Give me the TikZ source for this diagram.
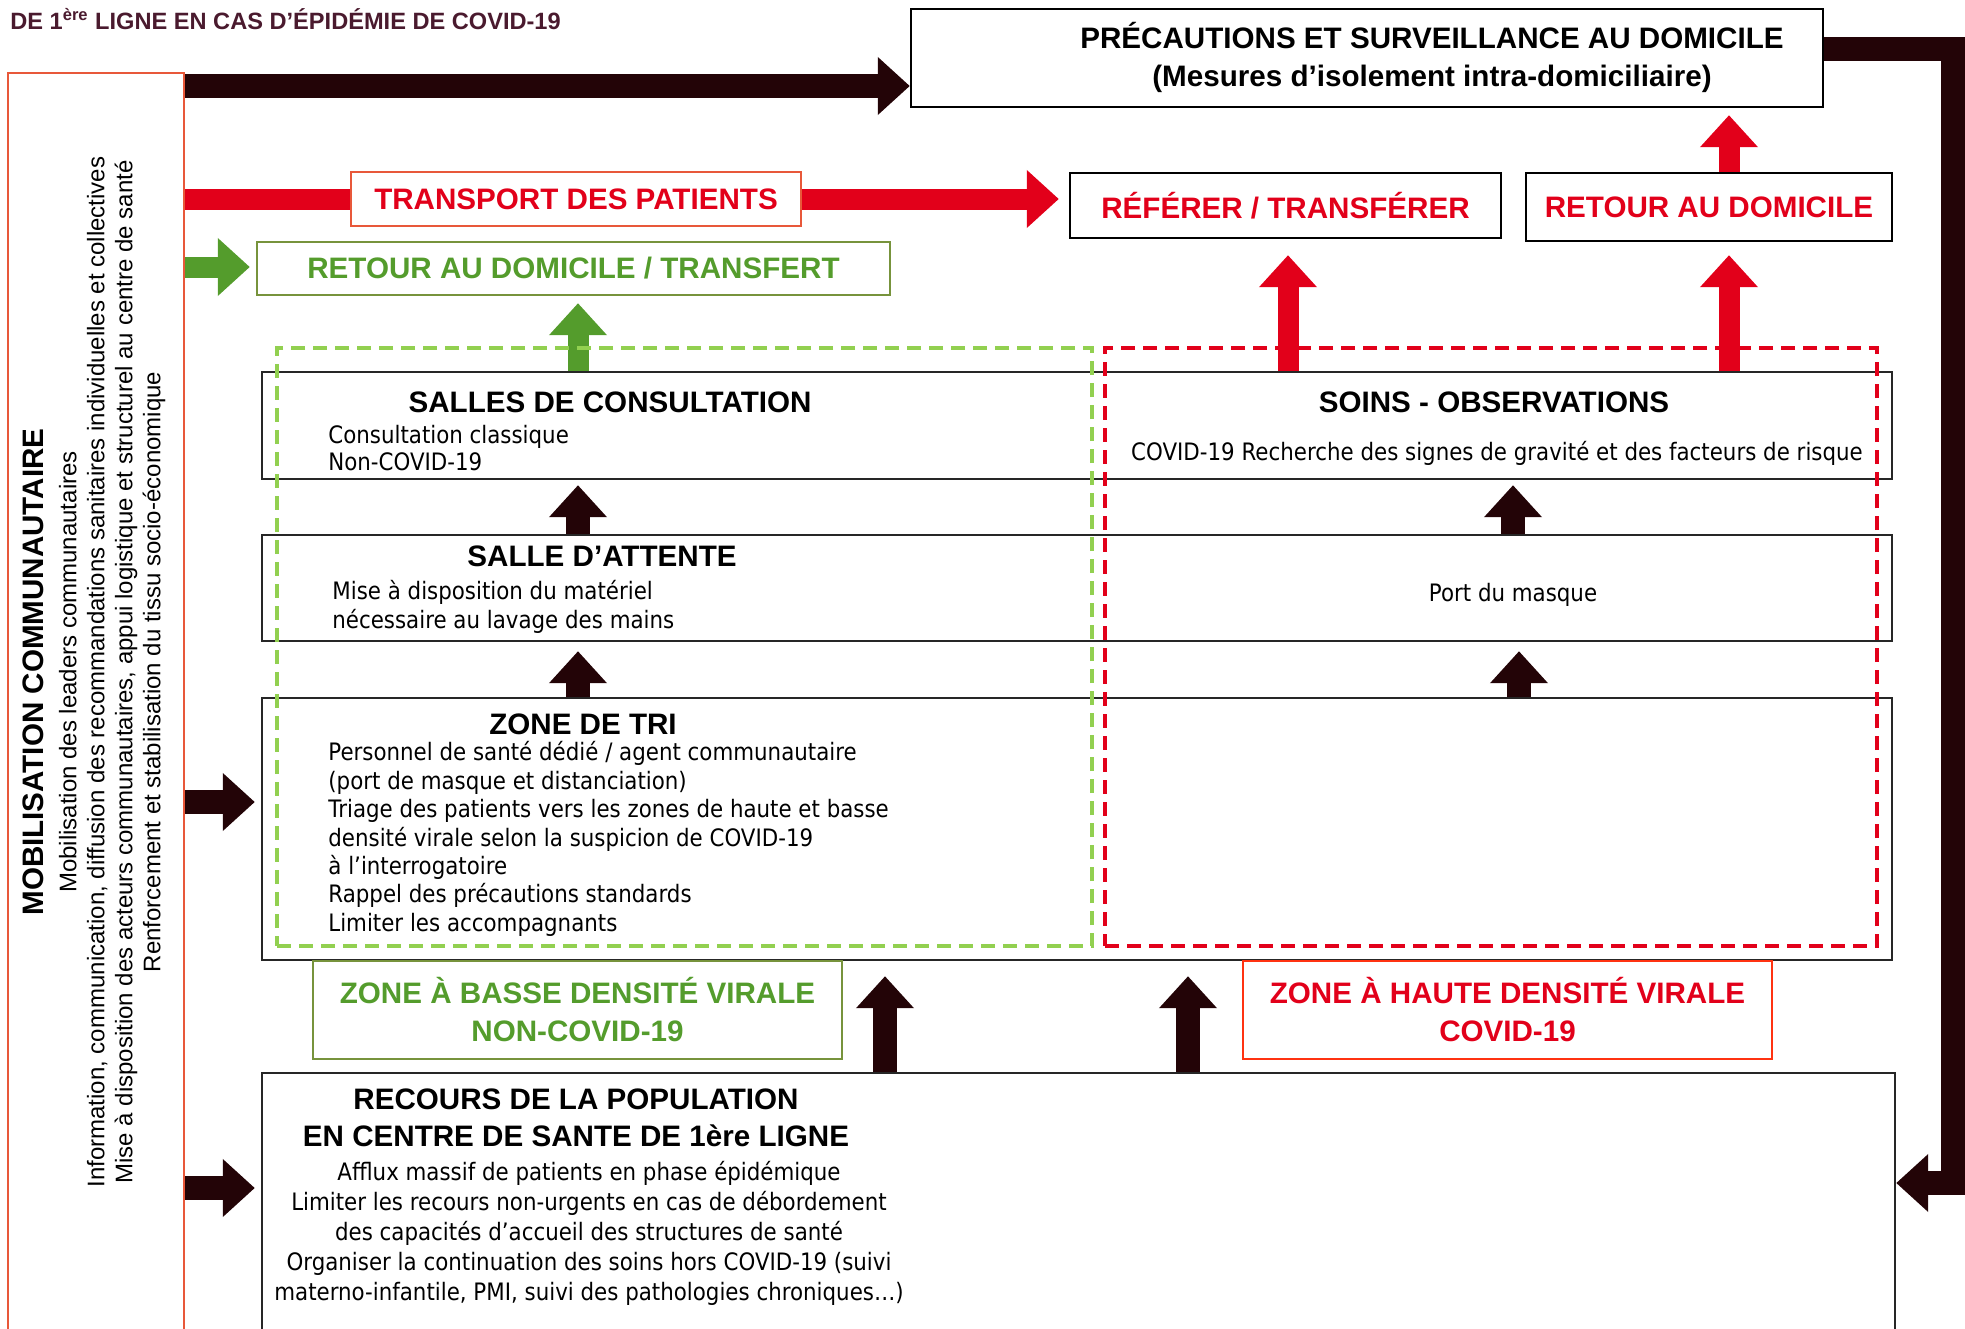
\documentclass[tikz,border=0pt]{standalone}
\usepackage{fontspec}
\setmainfont{Liberation Sans}
\newfontfamily\corps[FakeStretch=0.89]{DejaVu Sans}
\usetikzlibrary{arrows.meta, positioning}
\definecolor{noirbrun}{RGB}{35,4,7}
\definecolor{rougevif}{RGB}{226,0,26}
\definecolor{orangerouge}{RGB}{232,88,58}
\definecolor{rougezone}{RGB}{255,51,17}
\definecolor{vertfonce}{RGB}{84,156,44}
\definecolor{vertolive}{RGB}{119,147,60}
\definecolor{vertclair}{RGB}{146,208,80}
\definecolor{titrebrun}{RGB}{74,26,46}
\newcommand{\fonttete}[1]{\fontsize{14.8}{#1}\selectfont\bfseries}
\newcommand{\fontcorps}[1]{\corps\fontsize{12}{#1}\selectfont}

\begin{document}
\begin{tikzpicture}[
    x=0.5pt, y=-0.5pt,
    box/.style={rectangle, draw=#1, line width=1.2pt, fill=white, inner sep=0pt, align=center},
    zone/.style={rectangle, draw=#1, line width=2pt, dash pattern=on 7pt off 4pt, inner sep=0pt},
    tete/.style={font=\fonttete{19pt}, align=center, inner sep=0pt},
    texte/.style={font=\fontcorps{14pt}, align=left, inner sep=0pt},
    fleche/.style={draw=noirbrun, line width=12pt, -{Triangle[length=16pt, width=28pt]}},
    flecheR/.style={fleche, draw=rougevif, line width=10.5pt},
    flecheV/.style={fleche, draw=vertfonce, line width=10.5pt}
  ]
    \useasboundingbox (0,0) rectangle (1965,1328);
    \clip (0,0) rectangle (1965,1328);

    % titre et colonne de gauche
    \node[anchor=west, inner sep=0pt, text=titrebrun, font=\fontsize{11.8}{14}\selectfont\bfseries] (titre) at (10,19) {DE 1\textsuperscript{ère} LIGNE EN CAS D’ÉPIDÉMIE DE COVID-19};
    \node[box=orangerouge, line width=1pt, minimum width=88pt, minimum height=650pt] (mob) at (96,723) {};
    \node[rotate=90, align=center, inner sep=0pt, font=\fontsize{12}{14}\selectfont] (mobtxt) at (94,672)
      {{\fonttete{14pt}MOBILISATION COMMUNAUTAIRE}\\[2.5pt]
       Mobilisation des leaders communautaires\\
       Information, communication, diffusion des recommandations sanitaires individuelles et collectives\\
       Mise à disposition des acteurs communautaires, appui logistique et structurel au centre de santé\\
       Renforcement et stabilisation du tissu socio-économique};

    % boites du haut
    \node[box=black, minimum width=456pt, minimum height=49pt] (prec) at (1367,58) {};
    \node[tete] (prectxt) at (1432,57) {PRÉCAUTIONS ET SURVEILLANCE AU DOMICILE\\(Mesures d’isolement intra-domiciliaire)};
    \node[box=black, text=rougevif, font=\fonttete{19pt}, minimum width=215.5pt, minimum height=32.5pt] (refer) at (1285.5,205.5) {RÉFÉRER / TRANSFÉRER};
    \node[box=black, text=rougevif, font=\fonttete{19pt}, minimum width=183pt, minimum height=34pt] (retdom) at (1709,207) {RETOUR AU DOMICILE};
    \node[box=vertolive, text=vertfonce, font=\fonttete{19pt}, minimum width=316.5pt, minimum height=26.5pt] (rettr) at (573.5,268.5) {RETOUR AU DOMICILE / TRANSFERT};

    % rangees
    \node[box=black!85, minimum width=815pt, minimum height=53.5pt] (salles) at (1077,425.5) {};
    \node[box=black!85, minimum width=815pt, minimum height=53pt] (attente) at (1077,588) {};
    \node[box=black!85, minimum width=815pt, minimum height=131pt] (tri) at (1077,829) {};
    \node[box=black!85, minimum width=816.5pt, minimum height=143.5pt] (recours) at (1078.5,1216.5) {};
    \node[box=vertolive, text=vertfonce, font=\fonttete{19pt}, minimum width=264.5pt, minimum height=49pt] (basse) at (577.5,1010) {ZONE À BASSE DENSITÉ VIRALE\\NON-COVID-19};
    \node[box=rougezone, text=rougevif, font=\fonttete{19pt}, minimum width=264.5pt, minimum height=49pt] (haute) at (1507.5,1010) {ZONE À HAUTE DENSITÉ VIRALE\\COVID-19};

    \node[tete] (sallestete) at (610,402) {SALLES DE CONSULTATION};
    \node[texte, anchor=west, font=\fontcorps{13.5pt}] (sallestxt) at (328,448) {Consultation classique\\Non-COVID-19};
    \node[tete] (soinstete) at (1494,402) {SOINS - OBSERVATIONS};
    \node[texte] (soinstxt) at (1497,453) {COVID-19 Recherche des signes de gravité et des facteurs de risque};
    \node[tete] (attentetete) at (602,556) {SALLE D’ATTENTE};
    \node[texte, anchor=west, font=\fontcorps{14.5pt}] (attentetxt) at (332,607) {Mise à disposition du matériel\\nécessaire au lavage des mains};
    \node[texte] (masque) at (1513,595) {Port du masque};
    \node[tete] (tritete) at (583,724) {ZONE DE TRI};
    \node[texte, anchor=west, font=\fontcorps{14.2pt}] (tritxt) at (328,839)
      {Personnel de santé dédié / agent communautaire\\
       (port de masque et distanciation)\\
       Triage des patients vers les zones de haute et basse\\
       densité virale selon la suspicion de COVID-19\\
       à l’interrogatoire\\
       Rappel des précautions standards\\
       Limiter les accompagnants};
    \node[tete, font=\fonttete{18.5pt}] (recourstete) at (576,1118) {RECOURS DE LA POPULATION\\EN CENTRE DE SANTE DE 1ère LIGNE};
    \node[texte, align=center, font=\fontcorps{15pt}] (recourstxt) at (589,1233)
      {Afflux massif de patients en phase épidémique\\
       Limiter les recours non-urgents en cas de débordement\\
       des capacités d’accueil des structures de santé\\
       Organiser la continuation des soins hors COVID-19 (suivi\\
       materno-infantile, PMI, suivi des pathologies chroniques…)};

    % reperes des fleches
    \coordinate (yhaut) at (0,86);
    \coordinate (yrouge) at (0,199);
    \coordinate (yvert) at (0,267);
    \coordinate (ytri) at (0,802);
    \coordinate (yrec) at (0,1188);
    \coordinate (yretour) at (0,1183);
    \coordinate (coin) at (1953,49);
    \coordinate (xg) at (578,0);
    \coordinate (xd1) at (1513,0);
    \coordinate (xd2) at (1519,0);
    \coordinate (xb1) at (885,0);
    \coordinate (xb2) at (1188,0);
    \coordinate (xref) at (1288,0);
    \coordinate (xdom) at (1729,0);

    % fleches
    \draw[fleche] (mob.east |- yhaut) -- (prec.west |- yhaut);
    \draw[fleche] (prec.east |- coin) -- (coin) |- (recours.east |- yretour);
    \draw[flecheR, shorten >=5pt] (mob.east |- yrouge) -- (refer.west |- yrouge);
    \node[box=orangerouge, line width=1pt, text=rougevif, font=\fonttete{19pt}, minimum width=225pt, minimum height=27pt] (transp) at (576,199) {TRANSPORT DES PATIENTS};
    \draw[flecheV, shorten >=3pt] (mob.east |- yvert) -- (rettr.west |- yvert);
    \draw[flecheR, shorten >=3.5pt] (retdom.north -| xdom) -- (prec.south -| xdom);
    \draw[flecheR, shorten >=8pt] (salles.north -| xref) -- (refer.south -| xref);
    \draw[flecheR, shorten >=6.5pt] (salles.north -| xdom) -- (retdom.south -| xdom);
    \draw[flecheV, shorten >=3.5pt] (salles.north -| xg) -- (rettr.south -| xg);
    \draw[fleche, shorten >=2.5pt] (attente.north -| xg) -- (salles.south -| xg);
    \draw[fleche, shorten >=2.5pt] (attente.north -| xd1) -- (salles.south -| xd1);
    \draw[fleche, shorten >=4.5pt] (tri.north -| xg) -- (attente.south -| xg);
    \draw[fleche, shorten >=4.5pt] (tri.north -| xd2) -- (attente.south -| xd2);
    \draw[fleche, shorten >=7.5pt] (recours.north -| xb1) -- (tri.south -| xb1);
    \draw[fleche, shorten >=7.5pt] (recours.north -| xb2) -- (tri.south -| xb2);
    \draw[fleche, shorten >=3pt] (mob.east |- ytri) -- (tri.west |- ytri);
    \draw[fleche, shorten >=3pt] (mob.east |- yrec) -- (recours.west |- yrec);

    % zones en pointilles
    \node[zone=vertclair, minimum width=407.5pt, minimum height=299pt] (zvert) at (684.5,647) {};
    \node[zone=rougevif, minimum width=386pt, minimum height=299pt] (zrouge) at (1491,647) {};
  \end{tikzpicture}
\end{document}
